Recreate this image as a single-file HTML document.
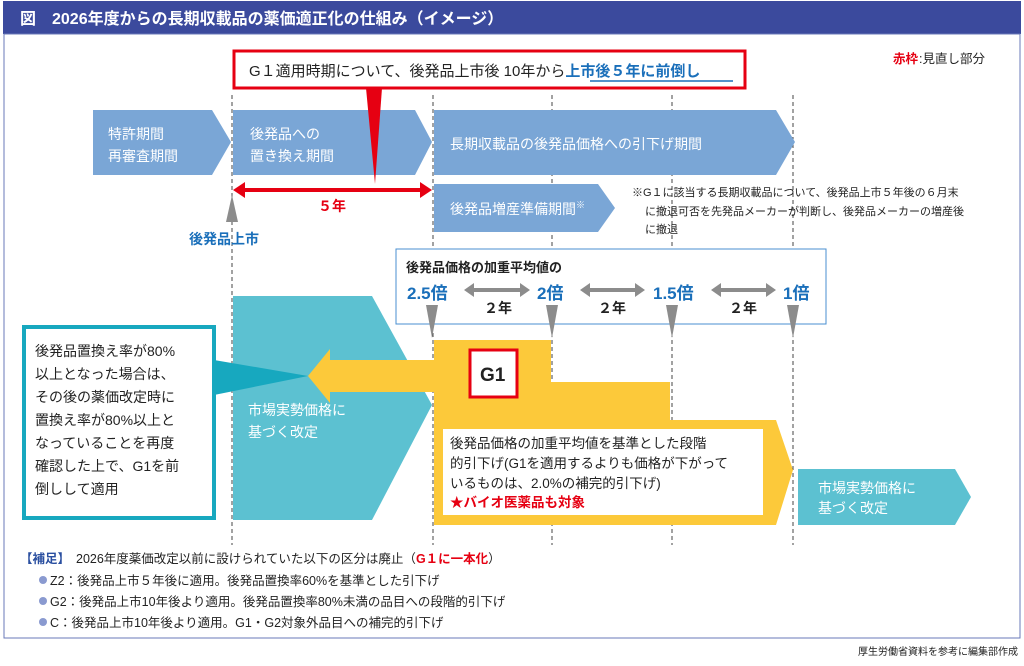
<!DOCTYPE html>
<html><head><meta charset="utf-8"><style>
body{margin:0;background:#fff;}
svg text{font-family:"Liberation Sans","Noto Sans CJK JP",sans-serif;}
</style></head><body>
<svg width="1024" height="661" viewBox="0 0 1024 661" xmlns="http://www.w3.org/2000/svg">
<rect x="0" y="0" width="1024" height="661" fill="#fff"/>
<rect x="3" y="1" width="1018" height="33" fill="#3b4a9d"/>
<rect x="4" y="34" width="1016" height="604" fill="none" stroke="#6a78b8" stroke-width="1"/>
<text x="20" y="24" font-size="16" font-weight="bold" fill="#fff">図　2026年度からの長期収載品の薬価適正化の仕組み（イメージ）</text>
<text x="893" y="63" font-size="12.5" fill="#e60012" font-weight="bold">赤枠</text><text x="919" y="63" font-size="12.5" fill="#222">:見直し部分</text>

<g stroke="#444" stroke-width="1" stroke-dasharray="4,3">
<line x1="232" y1="95" x2="232" y2="545"/><line x1="433" y1="95" x2="433" y2="545"/>
<line x1="552" y1="95" x2="552" y2="545"/><line x1="672" y1="95" x2="672" y2="545"/>
<line x1="793" y1="95" x2="793" y2="545"/>
</g>

<g fill="#7aa6d6">
<polygon points="93,110 212,110 231,142 212,175 93,175"/>
<polygon points="233,110 415,110 432,142 415,175 233,175"/>
<polygon points="434,110 776,110 795,142 776,175 434,175"/>
<polygon points="434,184 598,184 615,208 598,232 434,232"/>
</g>
<g fill="#fff" font-size="14">
<text x="108" y="139">特許期間</text><text x="108" y="161">再審査期間</text>
<text x="250" y="139">後発品への</text><text x="250" y="161">置き換え期間</text>
<text x="450" y="149">長期収載品の後発品価格への引下げ期間</text>
<text x="450" y="214">後発品増産準備期間<tspan font-size="9" dy="-6">※</tspan></text>
</g>

<rect x="234" y="51" width="511" height="37" fill="#fff" stroke="#e60012" stroke-width="3"/>
<polygon points="366,88 382,88 375,184" fill="#e60012"/>
<text x="249" y="76" font-size="15" fill="#222">G１適用時期について、後発品上市後 10年から<tspan fill="#1a6fba" font-weight="bold">上市後５年に前倒し</tspan></text>
<line x1="590" y1="81" x2="733" y2="81" stroke="#1a6fba" stroke-width="1.5"/>

<line x1="242" y1="190" x2="423" y2="190" stroke="#e60012" stroke-width="4"/>
<polygon points="233,190 245,182 245,198" fill="#e60012"/>
<polygon points="432,190 420,182 420,198" fill="#e60012"/>
<text x="318" y="211" font-size="14" fill="#e60012" font-weight="bold">５年</text>
<polygon points="232,195 226,222 238,222" fill="#8c8c8c"/>
<text x="189" y="244" font-size="14" fill="#1a6fba" font-weight="bold">後発品上市</text>

<g font-size="11" fill="#222">
<text x="632" y="196">※G１に該当する長期収載品について、後発品上市５年後の６月末</text>
<text x="645" y="215">に撤退可否を先発品メーカーが判断し、後発品メーカーの増産後</text>
<text x="645" y="233">に撤退</text>
</g>

<rect x="396" y="249" width="430" height="75" fill="#fff" stroke="#4a8fd0" stroke-width="1"/>
<text x="406" y="272" font-size="13" fill="#222" font-weight="bold">後発品価格の加重平均値の</text>
<g font-size="17" fill="#1a6fba" font-weight="bold">
<text x="407" y="299">2.5倍</text><text x="537" y="299">2倍</text><text x="653" y="299">1.5倍</text><text x="783" y="299">1倍</text>
</g>
<g fill="#8c8c8c">
<polygon points="464,290 474,283 474,288 520,288 520,283 530,290 520,297 520,292 474,292 474,297"/>
<polygon points="580,290 590,283 590,288 635,288 635,283 645,290 635,297 635,292 590,292 590,297"/>
<polygon points="711,290 721,283 721,288 766,288 766,283 776,290 766,297 766,292 721,292 721,297"/>
</g>
<g font-size="14" fill="#222" font-weight="bold">
<text x="484" y="313">２年</text><text x="598" y="313">２年</text><text x="729" y="313">２年</text>
</g>
<g fill="#8c8c8c">
<polygon points="426,305 438,305 432,338"/><polygon points="546,305 558,305 552,338"/>
<polygon points="666,305 678,305 672,338"/><polygon points="787,305 799,305 793,338"/>
</g>

<polygon points="233,296 372,296 432,405 372,520 233,520" fill="#5cc1d1"/>
<text x="248" y="415" font-size="14" fill="#fff">市場実勢価格に</text>
<text x="248" y="437" font-size="14" fill="#fff">基づく改定</text>

<polygon points="434,340 551,340 551,382 670,382 670,420 776,420 793,470 776,525 434,525" fill="#fcc93a"/>
<polygon points="434,360 330,360 330,349 308,376 330,403 330,392 434,392" fill="#fcc93a"/>
<rect x="470" y="350" width="47" height="47" fill="#fff" stroke="#e60012" stroke-width="3"/>
<text x="480" y="381" font-size="19" fill="#222" font-weight="bold">G1</text>
<rect x="443" y="429" width="320" height="86" fill="#fff"/>
<g font-size="13.5" fill="#222">
<text x="450" y="448">後発品価格の加重平均値を基準とした段階</text>
<text x="450" y="468">的引下げ(G1を適用するよりも価格が下がって</text>
<text x="450" y="488">いるものは、2.0%の補完的引下げ)</text>
</g>
<text x="450" y="507" font-size="13.5" fill="#e60012" font-weight="bold">★バイオ医薬品も対象</text>

<polygon points="798,469 955,469 971,497 955,525 798,525" fill="#5cc1d1"/>
<text x="818" y="493" font-size="14" fill="#fff">市場実勢価格に</text>
<text x="818" y="513" font-size="14" fill="#fff">基づく改定</text>

<polygon points="214,360 308,376 214,395" fill="#17a8bf"/>
<rect x="24" y="327" width="190" height="191" fill="#fff" stroke="#17a8bf" stroke-width="4"/>
<g font-size="14" fill="#222">
<text x="35" y="356">後発品置換え率が80%</text>
<text x="35" y="379">以上となった場合は、</text>
<text x="35" y="402">その後の薬価改定時に</text>
<text x="35" y="425">置換え率が80%以上と</text>
<text x="35" y="448">なっていることを再度</text>
<text x="35" y="471">確認した上で、G1を前</text>
<text x="35" y="494">倒しして適用</text>
</g>

<text x="20" y="563" font-size="12.5" fill="#2a4fa0" font-weight="bold">【補足】</text>
<text x="76" y="563" font-size="12.5" fill="#222">2026年度薬価改定以前に設けられていた以下の区分は廃止（<tspan fill="#e60012" font-weight="bold">G１に一本化</tspan>）</text>
<g font-size="12.5" fill="#222">
<circle cx="43" cy="580" r="4" fill="#8a9ad0"/><text x="50" y="585">Z2：後発品上市５年後に適用。後発品置換率60%を基準とした引下げ</text>
<circle cx="43" cy="601" r="4" fill="#8a9ad0"/><text x="50" y="606">G2：後発品上市10年後より適用。後発品置換率80%未満の品目への段階的引下げ</text>
<circle cx="43" cy="622" r="4" fill="#8a9ad0"/><text x="50" y="627">C：後発品上市10年後より適用。G1・G2対象外品目への補完的引下げ</text>
</g>
<text x="1018" y="655" font-size="10" fill="#222" text-anchor="end">厚生労働省資料を参考に編集部作成</text>
</svg>
</body></html>
